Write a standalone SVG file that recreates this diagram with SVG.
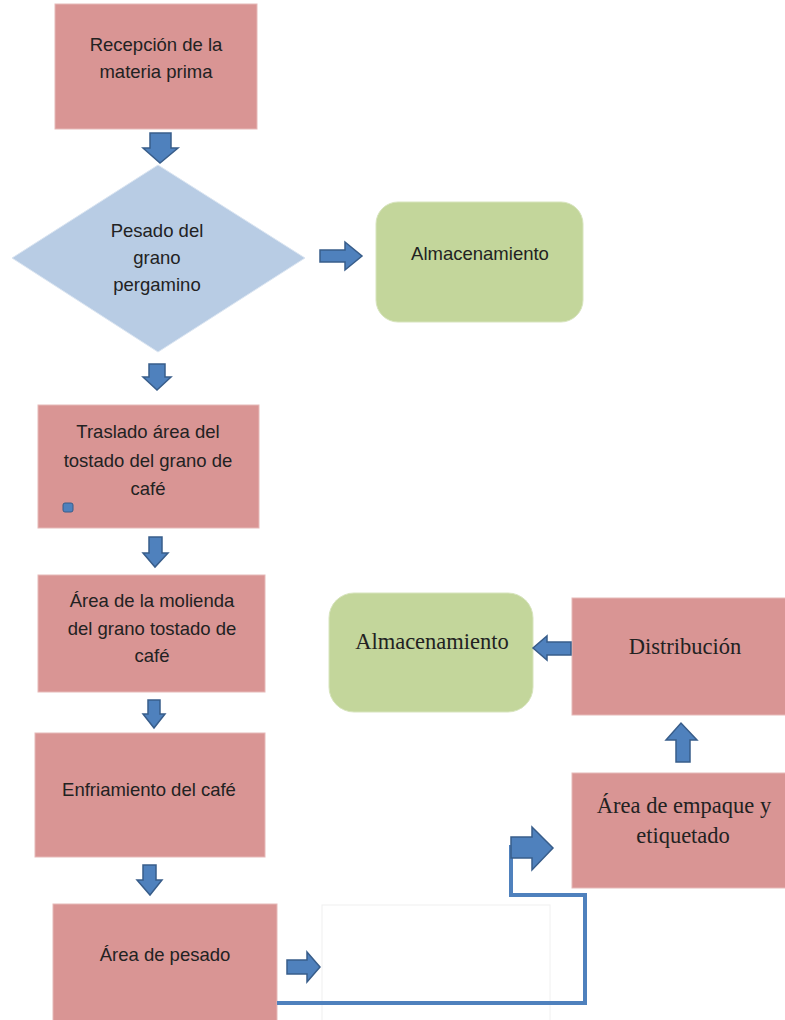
<svg xmlns="http://www.w3.org/2000/svg" width="785" height="1020" viewBox="0 0 785 1020">
<style>
.box{fill:#d99594;stroke:#e6b9b8;stroke-width:1}
.dia{fill:#b8cce4;stroke:#dbe5f1;stroke-width:1}
.grn{fill:#c3d69b;stroke:#d7e4bd;stroke-width:1}
.arr{fill:#4f81bd;stroke:#385d8a;stroke-width:1.5;stroke-linejoin:miter}
.t{font-family:"Liberation Sans",Arial,sans-serif;font-size:18.5px;fill:#222;text-anchor:middle}
.s{font-family:"Liberation Serif","Times New Roman",serif;font-size:22.5px;fill:#222;text-anchor:middle}
.ln{fill:none;stroke:#4f81bd;stroke-width:4}
</style>
<rect width="785" height="1020" fill="#fff"/>
<g id="n1"><rect class="box" x="55" y="4" width="202" height="125"/>
<text class="t" x="156" y="51">Recepción de la</text><text class="t" x="156" y="78">materia prima</text></g>
<g id="n2"><polygon class="dia" points="158,165 305,258 158,352 12,258"/>
<text class="t" x="157" y="237">Pesado del</text><text class="t" x="157" y="264">grano</text><text class="t" x="157" y="291">pergamino</text></g>
<g id="n3"><rect class="grn" x="376" y="202" width="207" height="120" rx="22"/>
<text class="t" x="480" y="260">Almacenamiento</text></g>
<g id="n4"><rect class="box" x="38" y="405" width="221" height="123"/>
<text class="t" x="148" y="438">Traslado área del</text><text class="t" x="148" y="467">tostado del grano de</text><text class="t" x="148" y="495">café</text>
<rect x="63" y="503" width="10" height="9" rx="2" fill="#4f81bd" stroke="#385d8a"/></g>
<g id="n5"><rect class="box" x="38" y="575" width="227" height="117"/>
<text class="t" x="152" y="607">Área de la molienda</text><text class="t" x="152" y="635">del grano tostado de</text><text class="t" x="152" y="662">café</text></g>
<g id="n6"><rect class="box" x="35" y="733" width="230" height="124"/>
<text class="t" x="149" y="796">Enfriamiento del café</text></g>
<g id="n7"><rect class="box" x="53" y="904" width="224" height="120"/>
<text class="t" x="165" y="961">Área de pesado</text></g>
<g id="n8"><rect x="322" y="905" width="228" height="120" fill="#fff" stroke="#f0f0f0"/></g>
<g id="n9"><rect class="box" x="572" y="598" width="216" height="117"/>
<text class="s" x="685" y="654">Distribución</text></g>
<g id="n10"><rect class="box" x="572" y="773" width="216" height="115"/>
<text class="s" x="684" y="813">Área de empaque y</text><text class="s" x="683" y="843">etiquetado</text></g>
<g id="n11"><rect class="grn" x="329" y="593" width="204" height="119" rx="25"/>
<text class="s" x="432" y="649">Almacenamiento</text></g>
<g id="connectors">
<polygon class="arr" points="150,133 171,133 171,148 178,148 160,163 143,148 150,148"/>
<polygon class="arr" points="320,250 345,250 345,242 362,256 345,270 345,262 320,262"/>
<polygon class="arr" points="149,364 165,364 165,377 171,377 157,390 143,377 149,377"/>
<polygon class="arr" points="149,537 162,537 162,553 168,553 155,567 143,553 149,553"/>
<polygon class="arr" points="148,700 160,700 160,714 165,714 154,728 143,714 148,714"/>
<polygon class="arr" points="143,865 156,865 156,880 162,880 150,895 137,880 143,880"/>
<polygon class="arr" points="287,960 307,960 307,952 320,967 307,982 307,974 287,974"/>
<polyline class="ln" points="277,1003 585,1003 585,895 511,895 511,845"/>
<polygon class="arr" points="511,837 532,837 532,827 553,848 532,870 532,858 511,858"/>
<polygon class="arr" points="571,642 547,642 547,636 533,648 547,660 547,655 571,655"/>
<polygon class="arr" points="676,762 690,762 690,740 697,740 681,723 666,740 676,740"/>
</g>
</svg>
